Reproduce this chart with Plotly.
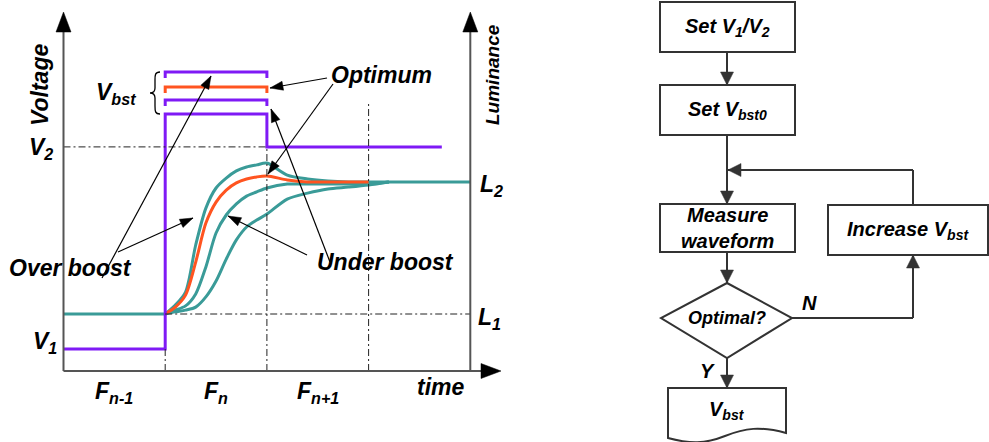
import math
import plotly.graph_objects as go

# ---------------- data ----------------
frame_labels = ["F<sub>n-1</sub>", "F<sub>n</sub>", "F<sub>n+1</sub>"]
frame_centers = [0.5, 1.5, 2.5]
frame_edges = [0, 1, 2, 3, 4]

V1 = 7.3
V2 = 74.7
boost_levels = [85.7, 90.3, 94.7, 99.7]   # lowest .. highest, index 2 = optimum
V2_end = 3.72
L1 = 19.0
L2 = 63.0

t_curve = [1.0, 1.1, 1.2, 1.3, 1.4, 1.5, 1.6, 1.7, 1.8, 1.9, 2.0, 2.2, 2.4, 2.6, 2.8, 3.0, 3.2]
lum_over = [19.0, 22.0, 26.3, 42.0, 54.3, 61.0, 64.3, 66.7, 68.0, 68.7, 69.3, 65.3, 64.0, 63.3, 63.0, 63.0, 63.0]
lum_opt = [19.0, 21.3, 25.3, 36.3, 49.3, 56.3, 60.3, 62.7, 64.0, 64.7, 65.0, 63.7, 63.0, 63.0, 63.0, 63.0]
lum_under1 = [19.0, 20.3, 21.7, 25.7, 34.7, 46.0, 52.0, 55.7, 58.3, 59.7, 61.0, 62.3, 62.3, 62.3, 62.3, 62.3, 63.0]
lum_under2 = [19.0, 19.7, 20.3, 21.3, 24.7, 30.0, 37.3, 43.7, 48.0, 50.3, 52.3, 57.3, 59.3, 60.7, 61.3, 62.0, 63.0]
settle_t = 3.2

PURPLE = "#7F1AF5"
ORANGE = "#FF5420"
TEAL = "#3A9B98"
FONT = "Liberation Sans"

W, H = 989, 442
# pixel mapping of the waveform panel
OX, SX = 63.5, 101.7
OY, SY = 371.0, 3.0
def PX(t):
    return OX + SX * t
def PY(v):
    return OY - SY * v

XR = [-0.6, 4.6]
YR = [-10, 120]

fig = go.Figure()

def line(x, y, color, shape="linear"):
    fig.add_trace(go.Scatter(x=x, y=y, mode="lines", hoverinfo="skip",
                             line=dict(color=color, width=3, shape=shape, smoothing=0.8)))

# luminance
line([0, 1], [L1, L1], TEAL)
line([settle_t, 4], [L2, L2], TEAL)
line(t_curve, lum_under2, TEAL, "spline")
line(t_curve, lum_under1, TEAL, "spline")
line(t_curve, lum_over, TEAL, "spline")
line(t_curve[:len(lum_opt)], lum_opt, ORANGE, "spline")

# voltage
b0 = boost_levels[0]
line([0, 1, 1, 2, 2, V2_end], [V1, V1, b0, b0, V2, V2], PURPLE)
TICK = 2.0
for i, lv in enumerate(boost_levels[1:], start=1):
    c = ORANGE if i == 2 else PURPLE
    line([1, 1, 2, 2], [lv - TICK, lv, lv, lv - TICK], c)

# invisible trace for pixel overlay axes
fig.add_trace(go.Scatter(x=[0], y=[0], xaxis="x2", yaxis="y2", mode="markers",
                         marker=dict(opacity=0), hoverinfo="skip"))

shapes = []
annotations = []

def seg(x0, y0, x1, y1, width=1.2, color="black", dash=None):
    d = dict(type="line", xref="x2", yref="y2", x0=x0, y0=y0, x1=x1, y1=y1,
             line=dict(color=color, width=width))
    if dash:
        d["line"]["dash"] = dash
    shapes.append(d)

def head(x0, y0, x1, y1, L, Wd, color="black"):
    dx, dy = x1 - x0, y1 - y0
    n = math.hypot(dx, dy)
    ux, uy = dx / n, dy / n
    bx, by = x1 - ux * L, y1 - uy * L
    nx, ny = -uy, ux
    p1 = (bx + nx * Wd / 2, by + ny * Wd / 2)
    p2 = (bx - nx * Wd / 2, by - ny * Wd / 2)
    shapes.append(dict(type="path", xref="x2", yref="y2",
                       path=f"M{x1},{y1} L{p1[0]},{p1[1]} L{p2[0]},{p2[1]} Z",
                       fillcolor=color, line=dict(color=color, width=0.5)))

def arrow(x0, y0, x1, y1, L=13, Wd=9, width=1.2, color="black"):
    seg(x0, y0, x1, y1, width, color)
    head(x0, y0, x1, y1, L, Wd, color)

def text(x, y, s, size=23, angle=0, xanchor="center", color="black"):
    annotations.append(dict(x=x, y=y, xref="x2", yref="y2", text=s,
                            showarrow=False, textangle=angle, xanchor=xanchor, yanchor="middle",
                            font=dict(family=FONT, size=size, color=color,
                                      weight="bold", style="italic")))

# guide lines (dash-dot)
DD = "7px,3px,2px,3px"
seg(PX(0), PY(V2), PX(2), PY(V2), 1, "#222", DD)
seg(PX(1), PY(L1), PX(4), PY(L1), 1, "#222", DD)
seg(PX(1), PY(0), PX(1), PY(V1), 1, "#222", DD)
seg(PX(2), PY(0), PX(2), PY(V2), 1, "#222", DD)
seg(PX(3), PY(0), PX(3), PY(89.7), 1, "#222", DD)

# axes
AX = "#555"
seg(PX(0), PY(0), PX(0), 30, 2, AX)
head(PX(0), 60, PX(0), 12, 20, 15, "black")
seg(PX(4), PY(0), PX(4), 30, 2, AX)
head(PX(4), 60, PX(4), 12, 20, 15, "black")
seg(PX(0), PY(0), 485, PY(0), 2, AX)
head(440, PY(0), 501, PY(0), 20, 15, "black")

# brace for V_bst
shapes.append(dict(type="path", xref="x2", yref="y2",
                   path="M160,72 C155,72 155,75 155,80 L155,88 C155,91 153,93 150,93 "
                        "C153,93 155,95 155,98 L155,106 C155,111 155,114 160,114",
                   line=dict(color="black", width=1.3)))

# label arrows
arrow(102, 278, 211, 76)
arrow(118, 252, 193, 218)
arrow(327, 78, 270, 88)
arrow(333, 84, 268, 174)
arrow(330, 262, 271, 109)
arrow(307, 255, 228, 216)

# waveform texts
text(40, 85, "Voltage", 23, -90)
text(492, 75, "Luminance", 19, -90)
text(41, 148, "V<sub>2</sub>", 23)
text(45, 342, "V<sub>1</sub>", 23)
text(491, 185, "L<sub>2</sub>", 23)
text(489, 318, "L<sub>1</sub>", 23)
text(116, 93, "V<sub>bst</sub>", 23)
text(381, 75, "Optimum", 23)
text(70, 268, "Over boost", 23)
text(385, 262, "Under boost", 23)
text(441, 387, "time", 23)
for c, lab in zip(frame_centers, frame_labels):
    text(PX(c), 392, lab, 23)

# ---------------- flowchart ----------------
FC = "#333"
def rect(x0, y0, x1, y1):
    shapes.append(dict(type="rect", xref="x2", yref="y2", x0=x0, y0=y0, x1=x1, y1=y1,
                       line=dict(color=FC, width=2), fillcolor="white"))

CX = 727
rect(660, 2, 795, 52)
text(CX, 27, "Set V<sub>1</sub>/V<sub>2</sub>", 20)
arrow(CX, 52, CX, 85, 13, 13, 2, FC)
rect(660, 85, 795, 135)
text(CX, 110, "Set V<sub>bst0</sub>", 20)
arrow(CX, 135, CX, 204, 13, 13, 2, FC)
rect(660, 204, 795, 252)
text(CX, 228, "Measure<br>waveform", 20)
rect(828, 205, 988, 255)
text(908, 230, "Increase V<sub>bst</sub>", 20)
seg(913, 205, 913, 170, 2, FC)
arrow(913, 170, 728, 170, 13, 13, 2, FC)
arrow(CX, 252, CX, 283, 13, 13, 2, FC)
shapes.append(dict(type="path", xref="x2", yref="y2",
                   path=f"M{CX},283 L792,318 L{CX},358 L661,318 Z",
                   line=dict(color=FC, width=2), fillcolor="white"))
text(CX, 318, "Optimal?", 18)
seg(792, 318, 913, 318, 2, FC)
arrow(913, 318, 913, 255, 13, 13, 2, FC)
text(809, 303, "N", 20)
arrow(CX, 358, CX, 388, 13, 13, 2, FC)
text(707, 371, "Y", 20)
shapes.append(dict(type="path", xref="x2", yref="y2",
                   path="M668,388 L786,388 L786,433 C760,426 745,428 725,436 "
                        "C705,444 690,444 668,438 Z",
                   line=dict(color=FC, width=2), fillcolor="white"))
text(CX, 410, "V<sub>bst</sub>", 20)

fig.update_layout(
    width=W, height=H, margin=dict(l=0, r=0, t=0, b=0),
    paper_bgcolor="white", plot_bgcolor="rgba(0,0,0,0)", showlegend=False,
    xaxis=dict(range=XR, domain=[PX(XR[0]) / W, PX(XR[1]) / W], visible=False),
    yaxis=dict(range=YR, domain=[1 - PY(YR[0]) / H, 1 - PY(YR[1]) / H], visible=False),
    xaxis2=dict(range=[0, W], domain=[0, 1], visible=False, anchor="y2"),
    yaxis2=dict(range=[H, 0], domain=[0, 1], visible=False, anchor="x2"),
    shapes=shapes, annotations=annotations,
)
fig.write_html("out.html", config={"displayModeBar": False},
               post_script="document.body.style.margin='0';")
